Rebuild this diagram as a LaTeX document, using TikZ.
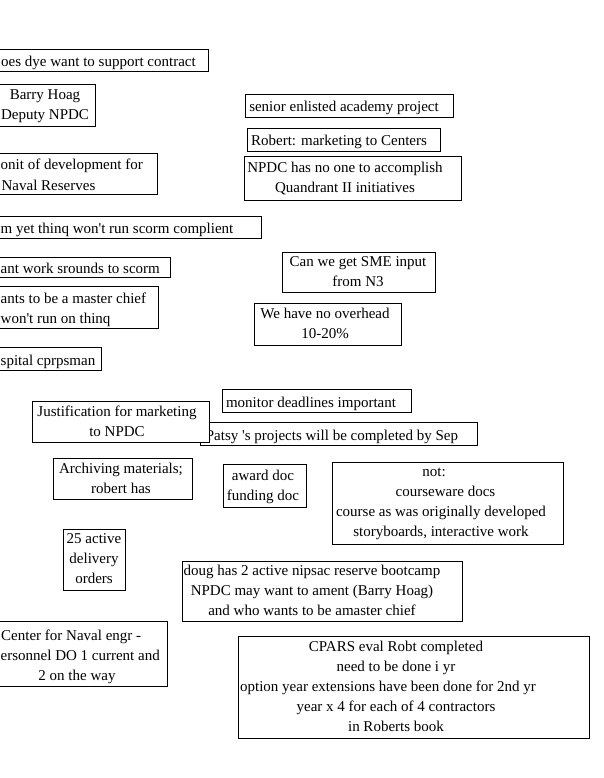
\documentclass[tikz,border=0pt]{standalone}
\usepackage{fontspec}
\setmainfont{Liberation Serif}
\newcommand{\sq}{\textquotesingle}
\begin{document}
\begin{tikzpicture}[x=1pt,y=-1pt,
  card/.style={draw=black, line width=0.9pt, fill=white},
  txt/.style={inner sep=0pt, yshift=-1.5pt, font=\fontsize{15}{20}\selectfont, align=center,
    execute at begin node=\strut, execute at end node=\strut}]
\useasboundingbox (0,0) rectangle (604,778);
\clip (0,0) rectangle (604,778);
\fill[white] (0,0) rectangle (604,778);

% A
\draw[card] (-10,49) rectangle (208,71);
\node[txt, anchor=west] (tA) at (1,61) {oes dye want to support contract};
% B
\draw[card] (-10,84) rectangle (95,126);
\node[txt] (tB) at (45,106) {Barry Hoag\\Deputy NPDC};
% C
\draw[card] (-10,153) rectangle (157,194);
\node[txt, anchor=west] (tC1) at (0.5,164.5) {onit of development for};
\node[txt] (tC2) at (48.5,184.5) {Naval Reserves};
% D
\draw[card] (-10,216) rectangle (261,238);
\node[txt, anchor=west] (tD) at (0.5,228) {m yet thinq won\sq t run scorm complient};
% E
\draw[card] (-10,257) rectangle (170,277);
\node[txt, anchor=west] (tE) at (0.5,268) {ant work srounds to scorm};
% F
\draw[card] (-10,286) rectangle (158,328);
\node[txt, anchor=west] (tF1) at (0.5,298) {ants to be a master chief};
\node[txt, anchor=west] (tF2) at (0.5,318) {won\sq t run on thinq};
% G
\draw[card] (-10,347) rectangle (101,370);
\node[txt, anchor=west] (tG) at (0.5,359.5) {spital cprpsman};

% R
\draw[card] (245,94) rectangle (453,117);
\node[txt] (tR) at (344,106.5) {senior enlisted academy project};
% S
\draw[card] (247,128) rectangle (440,151);
\node[txt] (tS) at (339,140.5) {Robert: marketing to Centers};
% T
\draw[card] (244,156) rectangle (461,200);
\node[txt] (tT) at (345,179) {NPDC has no one to accomplish\\Quandrant II initiatives};
% U
\draw[card] (282,252) rectangle (435,292);
\node[txt] (tU) at (358,273) {Can we get SME input\\from N3};
% V
\draw[card] (254,303) rectangle (401,345);
\node[txt] (tV) at (325,325) {We have no overhead\\10-20\%};

% I
\draw[card] (222,389) rectangle (411,412);
\node[txt] (tI) at (311,401.5) {monitor deadlines important};
% J
\draw[card] (200,422) rectangle (477,445);
\node[txt] (tJ) at (332,434.5) {Patsy \sq s projects will be completed by Sep};
% H (on top of J)
\draw[card] (32,401) rectangle (209,442);
\node[txt] (tH) at (117,422.5) {Justification for marketing\\to NPDC};
% K
\draw[card] (53,458) rectangle (192,499);
\node[txt] (tK) at (121,479.5) {Archiving materials;\\robert has};
% L
\draw[card] (223,464) rectangle (306,507);
\node[txt] (tL) at (263,486.5) {award doc\\funding doc};
% M
\draw[card] (332,462) rectangle (563,544);
\node[txt] (tM) at (441,504) {not:\rule{14pt}{0pt}\\\rule{9pt}{0pt}courseware docs\\course as was originally developed\\storyboards, interactive work};
% N
\draw[card] (63,529) rectangle (125,590);
\node[txt] (tN) at (94,560.5) {25 active\\delivery\\orders};
% O
\draw[card] (182,561) rectangle (462,621);
\node[txt] (tO) at (312,592) {doug has 2 active nipsac reserve bootcamp\\NPDC may want to ament (Barry Hoag)\\and who wants to be amaster chief};
% P
\draw[card] (-30,621) rectangle (167,686);
\node[txt, anchor=west] (tP1) at (1,634.5) {Center for Naval engr -};
\node[txt, anchor=west] (tP2) at (0.5,654.5) {ersonnel DO 1 current and};
\node[txt] (tP3) at (77,674.5) {2 on the way};
% Q
\draw[card] (238,636) rectangle (589,738);
\node[txt] (tQ) at (396,688) {CPARS eval Robt completed\\need to be done i yr\\option year extensions have been done for 2nd yr\rule{16pt}{0pt}\\year x 4 for each of 4 contractors\\in Roberts book};
\end{tikzpicture}
\end{document}
